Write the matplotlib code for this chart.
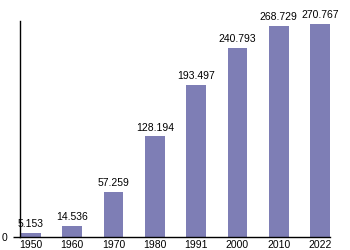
import matplotlib
matplotlib.use("Agg")
import matplotlib.pyplot as plt

years = ["1950", "1960", "1970", "1980", "1991", "2000", "2010", "2022"]
values = [5.153, 14.536, 57.259, 128.194, 193.497, 240.793, 268.729, 270.767]
labels = ["5.153", "14.536", "57.259", "128.194", "193.497", "240.793", "268.729", "270.767"]

plt.rcParams['font.family'] = ['Liberation Sans', 'DejaVu Sans']
fig = plt.figure(figsize=(3.5, 2.5), dpi=100)
ax = fig.add_axes([20/350, 13/250, 310/350, 216/250])
x = list(range(len(years)))
ax.bar(x, values, width=0.48, color="#7e7eb5")
for xi, v, lab in zip(x, values, labels):
    ax.text(xi, v + 4.5, lab, ha="center", va="bottom", fontsize=7.5, color="black")
ax.set_xlim(-0.265, 7.24)
ax.set_ylim(0, 274.5)
ax.set_xticks(x)
ax.set_xticklabels(years, fontsize=7.5)
ax.set_yticks([0])
ax.set_yticklabels(["0"], fontsize=7.5)
ax.tick_params(axis="x", length=0, pad=2)
ax.tick_params(axis="y", length=5, width=1, pad=4)
for s in ["top", "right"]:
    ax.spines[s].set_visible(False)
ax.spines["left"].set_linewidth(1)
ax.spines["bottom"].set_linewidth(1)
fig.savefig("out.png", dpi=100)
